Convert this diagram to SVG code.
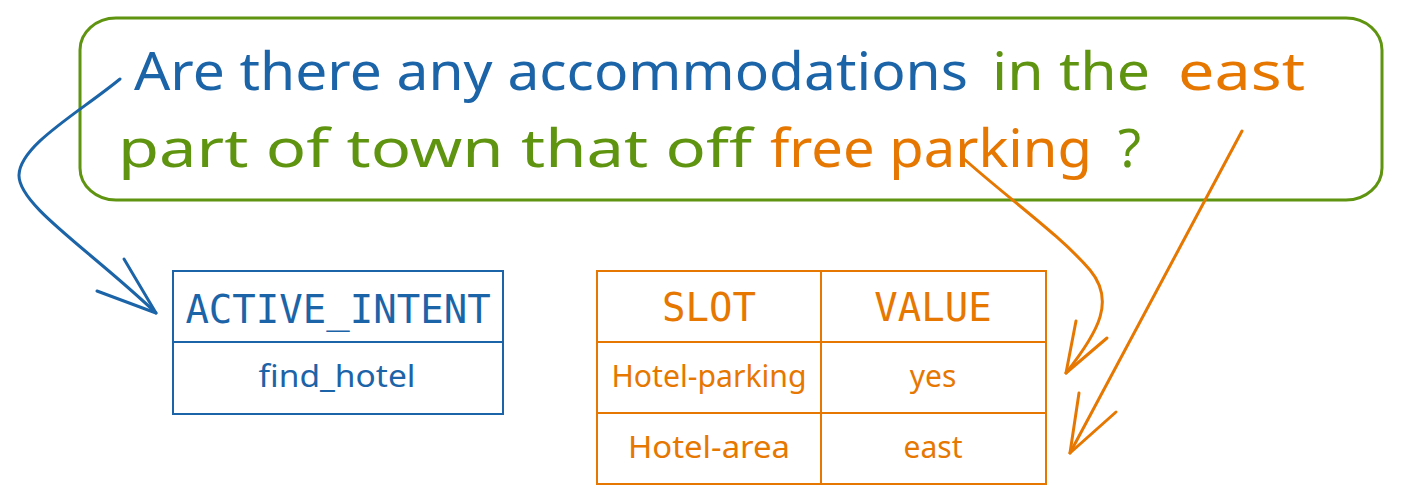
<svg xmlns="http://www.w3.org/2000/svg" width="1401" height="503" viewBox="0 0 1401 503">
<style>
.hand{font-family:"Noto Sans","DejaVu Sans",sans-serif;}
.mono{font-family:"DejaVu Sans Mono","Liberation Mono",monospace;font-size:39px;}
.blue{fill:#1c64a8;}
.green{fill:#5f9410;}
.orange{fill:#e67700;}
.ln{fill:none;stroke-linecap:round;stroke-linejoin:round;}
.big{font-size:53px;}
.small{font-size:30px;}
</style>
<rect width="1401" height="503" fill="#ffffff"/>
<g id="question">
<rect x="80" y="18" width="1302" height="182" rx="36" ry="32" fill="none" stroke="#5f9410" stroke-width="3"/>
<text class="hand big" y="90"><tspan class="blue" x="134" textLength="834" lengthAdjust="spacingAndGlyphs">Are there any accommodations</tspan><tspan class="green" x="992" textLength="158" lengthAdjust="spacingAndGlyphs">in the</tspan><tspan class="orange" x="1178" textLength="127" lengthAdjust="spacingAndGlyphs">east</tspan></text>
<text class="hand big" y="167"><tspan class="green" x="118" textLength="634" lengthAdjust="spacingAndGlyphs">part of town that off</tspan><tspan class="orange" x="770" textLength="322" lengthAdjust="spacingAndGlyphs">free parking</tspan><tspan class="green" x="1118">?</tspan></text>
</g>
<g id="intent">
<rect x="173" y="271" width="330" height="143" fill="none" stroke="#1c64a8" stroke-width="2"/>
<line x1="173" y1="342" x2="503" y2="342" stroke="#1c64a8" stroke-width="2"/>
<text class="mono blue" x="338" y="323" text-anchor="middle">ACTIVE_INTENT</text>
<text class="hand small blue" x="337" y="387" text-anchor="middle" textLength="157" lengthAdjust="spacingAndGlyphs">find_hotel</text>
</g>
<g id="slots">
<rect x="597" y="271" width="449" height="213" fill="none" stroke="#e67700" stroke-width="2"/>
<line x1="821" y1="271" x2="821" y2="484" stroke="#e67700" stroke-width="2"/>
<line x1="597" y1="342" x2="1046" y2="342" stroke="#e67700" stroke-width="2"/>
<line x1="597" y1="413" x2="1046" y2="413" stroke="#e67700" stroke-width="2"/>
<text class="mono orange" x="709" y="321" text-anchor="middle">SLOT</text>
<text class="mono orange" x="933" y="321" text-anchor="middle">VALUE</text>
<text class="hand small orange" x="709" y="387" text-anchor="middle" textLength="195" lengthAdjust="spacingAndGlyphs">Hotel-parking</text>
<text class="hand small orange" x="933" y="387" text-anchor="middle">yes</text>
<text class="hand small orange" x="709" y="458" text-anchor="middle" textLength="162" lengthAdjust="spacingAndGlyphs">Hotel-area</text>
<text class="hand small orange" x="933" y="458" text-anchor="middle">east</text>
</g>
<g id="connectors">
<path class="ln" stroke="#1c64a8" stroke-width="3" d="M120,79 C80,112 20,145 19,175 C18,205 90,250 156,313"/>
<path class="ln" stroke="#1c64a8" stroke-width="3" d="M124,259 L156,313 L97,291"/>
<path class="ln" stroke="#e67700" stroke-width="3" d="M963,158 C1010,200 1060,235 1090,270 C1115,300 1100,330 1066,373"/>
<path class="ln" stroke="#e67700" stroke-width="3" d="M1076,321 L1066,373 L1107,338"/>
<path class="ln" stroke="#e67700" stroke-width="3" d="M1242,131 L1070,453"/>
<path class="ln" stroke="#e67700" stroke-width="3" d="M1079,393 L1070,453 L1116,412"/>
</g>
</svg>
